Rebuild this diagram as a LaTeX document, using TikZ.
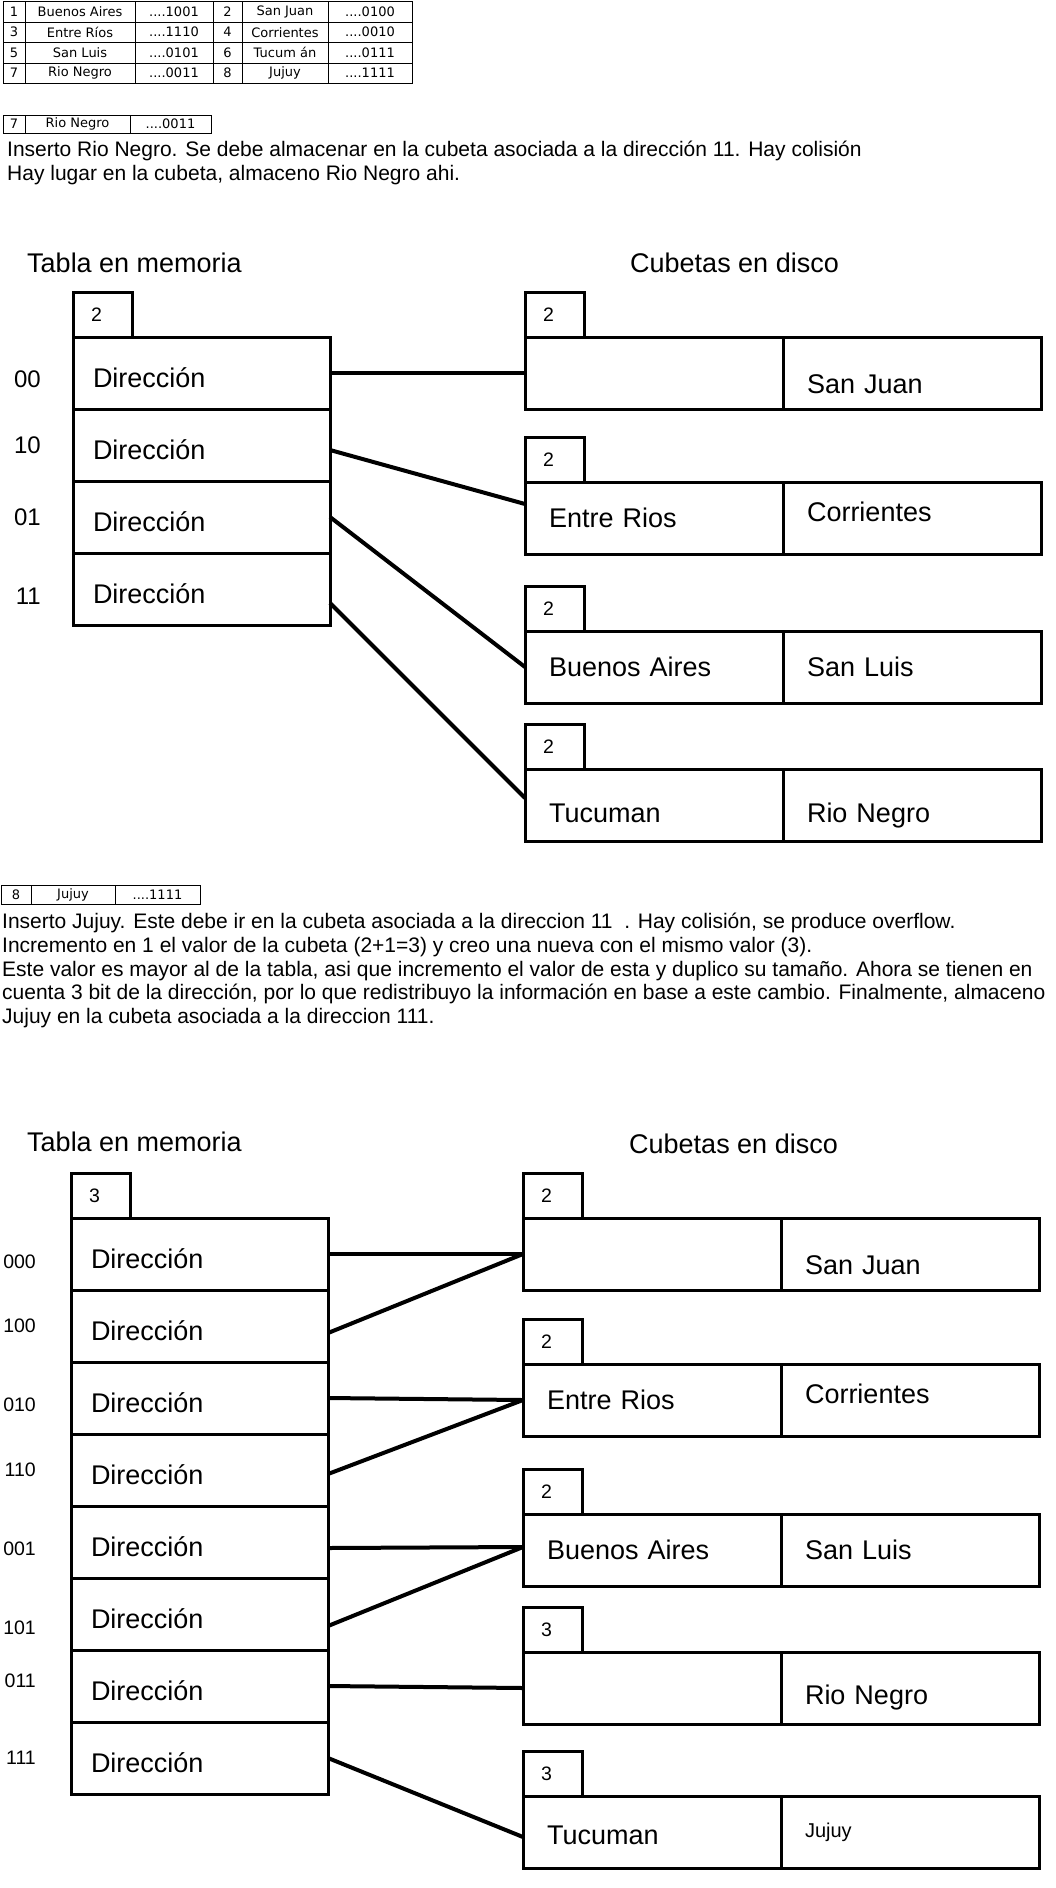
\documentclass[tikz,border=0pt]{standalone}
\usepackage{fontspec}
\setmainfont{Liberation Sans}
\newfontfamily\tablefont{DejaVu Sans}
\usepackage{tikz}
\usetikzlibrary{positioning}

\tikzset{
  cell/.style={draw, line width=0.8pt, minimum width=#1, minimum height=20.5pt,
    inner sep=0pt, outer sep=0pt, font={\tablefont\fontsize{13pt}{15pt}\selectfont}},
  dirrow/.style={draw, line width=3pt, minimum width=257pt, minimum height=72pt,
    text width=217pt, inner xsep=20pt, inner ysep=0pt, outer sep=0pt, align=left,
    text height=29pt, text depth=0pt, font={\fontsize{27pt}{32pt}\selectfont}},
  half/.style={draw, line width=3pt, minimum width=258pt, minimum height=72pt,
    text width=210pt, inner xsep=24pt, inner ysep=0pt, outer sep=0pt, align=left,
    font={\fontsize{27pt}{32pt}\selectfont}},
  tabbox/.style={draw, line width=3pt, minimum width=59pt, minimum height=45pt,
    text width=23pt, inner xsep=18pt, inner ysep=0pt, outer sep=0pt, align=left,
    font={\fontsize{19.5pt}{22pt}\selectfont}},
  rowlab/.style={inner sep=0pt, font={\fontsize{24pt}{28pt}\selectfont}},
  rowlabs/.style={inner sep=0pt, font={\fontsize{19.5pt}{23pt}\selectfont}},
  title/.style={inner sep=0pt, anchor=west, font={\fontsize{27pt}{32pt}\selectfont}},
  note/.style={inner sep=0pt, anchor=north west, align=left,
    font={\fontsize{21pt}{23.7pt}\selectfont}},
  sunk/.style={text height=#1, text depth=0pt},
  raised/.style={text depth=#1},
  link/.style={line width=4pt},
}

\begin{document}
\begin{tikzpicture}[x=1pt, y=-1pt]
\useasboundingbox (0,0) rectangle (1056,1888);

% tabla de datos
\node[cell=22pt, anchor=north west] (t11) at (3,1.5) {1};
\node[cell=110pt, right=0pt of t11] (t12) {Buenos Aires};
\node[cell=78pt, right=0pt of t12] (t13) {....1001};
\node[cell=29pt, right=0pt of t13] (t14) {2};
\node[cell=86pt, right=0pt of t14] (t15) {San Juan};
\node[cell=84pt, right=0pt of t15] (t16) {....0100};

\node[cell=22pt, below=0pt of t11] (t21) {3};
\node[cell=110pt, right=0pt of t21] (t22) {Entre Ríos};
\node[cell=78pt, right=0pt of t22] (t23) {....1110};
\node[cell=29pt, right=0pt of t23] (t24) {4};
\node[cell=86pt, right=0pt of t24] (t25) {Corrientes};
\node[cell=84pt, right=0pt of t25] (t26) {....0010};

\node[cell=22pt, below=0pt of t21] (t31) {5};
\node[cell=110pt, right=0pt of t31] (t32) {San Luis};
\node[cell=78pt, right=0pt of t32] (t33) {....0101};
\node[cell=29pt, right=0pt of t33] (t34) {6};
\node[cell=86pt, right=0pt of t34] (t35) {Tucum án};
\node[cell=84pt, right=0pt of t35] (t36) {....0111};

\node[cell=22pt, below=0pt of t31] (t41) {7};
\node[cell=110pt, right=0pt of t41] (t42) {Rio Negro};
\node[cell=78pt, right=0pt of t42] (t43) {....0011};
\node[cell=29pt, right=0pt of t43] (t44) {8};
\node[cell=86pt, right=0pt of t44] (t45) {Jujuy};
\node[cell=84pt, right=0pt of t45] (t46) {....1111};

% insercion de Rio Negro
\node[cell=22pt, minimum height=18pt, anchor=north west] (r1) at (3,115) {7};
\node[cell=105pt, minimum height=18pt, right=0pt of r1] (r2) {Rio Negro};
\node[cell=81pt, minimum height=18pt, right=0pt of r2] (r3) {....0011};

\node[note] (p1) at (7,141) {Inserto Rio Negro. Se debe almacenar en la cubeta asociada a la dirección 11. Hay colisión\\
Hay lugar en la cubeta, almaceno Rio Negro ahi.};

\node[title] (h1) at (27,263) {Tabla en memoria};
\node[title] (h2) at (630,263) {Cubetas en disco};

\node[dirrow, anchor=north west] (d00) at (73,337) {Dirección};
\node[dirrow, below=0pt of d00] (d10) {Dirección};
\node[dirrow, below=0pt of d10] (d01) {Dirección};
\node[dirrow, below=0pt of d01] (d11) {Dirección};
\node[tabbox, above right=0pt of d00.north west] (m1) {2};

\node[rowlab, left=32pt of d00, yshift=-6pt] (l00) {00};
\node[rowlab, left=32pt of d10] (l10) {10};
\node[rowlab, left=32pt of d01] (l01) {01};
\node[rowlab, left=32pt of d11, yshift=-7pt] (l11) {11};

\node[half, anchor=north west] (b1a) at (525,337) {};
\node[half, sunk=40pt, right=0pt of b1a] (b1b) {San Juan};
\node[tabbox, above right=0pt of b1a.north west] (b1t) {2};

\node[half, anchor=north west] (b2a) at (525,482) {Entre Rios};
\node[half, raised=12pt, right=0pt of b2a] (b2b) {Corrientes};
\node[tabbox, above right=0pt of b2a.north west] (b2t) {2};

\node[half, anchor=north west] (b3a) at (525,631) {Buenos Aires};
\node[half, right=0pt of b3a] (b3b) {San Luis};
\node[tabbox, above right=0pt of b3a.north west] (b3t) {2};

\node[half, sunk=35.5pt, anchor=north west] (b4a) at (525,769) {Tucuman};
\node[half, sunk=35.5pt, right=0pt of b4a] (b4b) {Rio Negro};
\node[tabbox, above right=0pt of b4a.north west] (b4t) {2};

\draw[link] (d00) -- (b1a);
\draw[link] ([yshift=-5pt]d10.east) -- ([yshift=14pt]b2a.west);
\draw[link] (d01.east) -- (b3a.west);
\draw[link] ([yshift=-14pt]d11.east) -- ([yshift=7pt]b4a.west);

% insercion de Jujuy
\node[cell=30pt, minimum height=19pt, anchor=north west] (j1) at (1,885) {8};
\node[cell=84pt, minimum height=19pt, right=0pt of j1] (j2) {Jujuy};
\node[cell=85pt, minimum height=19pt, right=0pt of j2] (j3) {....1111};

\node[note] (p2) at (2,913) {Inserto Jujuy. Este debe ir en la cubeta asociada a la direccion 11~~. Hay colisión, se produce overflow.\\
Incremento en 1 el valor de la cubeta (2+1=3) y creo una nueva con el mismo valor (3).\\
Este valor es mayor al de la tabla, asi que incremento el valor de esta y duplico su tamaño. Ahora se tienen en\\
cuenta 3 bit de la dirección, por lo que redistribuyo la información en base a este cambio. Finalmente, almaceno\\
Jujuy en la cubeta asociada a la direccion 111.};

\node[title] (h3) at (27,1142) {Tabla en memoria};
\node[title] (h4) at (629,1144) {Cubetas en disco};

\node[dirrow, anchor=north west] (d000) at (71,1218) {Dirección};
\node[dirrow, below=0pt of d000] (d100) {Dirección};
\node[dirrow, below=0pt of d100] (d010) {Dirección};
\node[dirrow, below=0pt of d010] (d110) {Dirección};
\node[dirrow, below=0pt of d110] (d001) {Dirección};
\node[dirrow, below=0pt of d001] (d101) {Dirección};
\node[dirrow, below=0pt of d101] (d011) {Dirección};
\node[dirrow, below=0pt of d011] (d111) {Dirección};
\node[tabbox, above right=0pt of d000.north west] (m2) {3};

\node[rowlabs, left=35pt of d000, yshift=-8pt] (l000) {000};
\node[rowlabs, left=35pt of d100] (l100) {100};
\node[rowlabs, left=35pt of d010, yshift=-7pt] (l010) {010};
\node[rowlabs, left=35pt of d110] (l110) {110};
\node[rowlabs, left=35pt of d001, yshift=-7pt] (l001) {001};
\node[rowlabs, left=35pt of d101, yshift=-14pt] (l101) {101};
\node[rowlabs, left=35pt of d011, yshift=5pt] (l011) {011};
\node[rowlabs, left=35pt of d111] (l111) {111};

\node[half, anchor=north west] (c1a) at (523,1218) {};
\node[half, sunk=40pt, right=0pt of c1a] (c1b) {San Juan};
\node[tabbox, above right=0pt of c1a.north west] (c1t) {2};

\node[half, anchor=north west] (c2a) at (523,1364) {Entre Rios};
\node[half, raised=12pt, right=0pt of c2a] (c2b) {Corrientes};
\node[tabbox, above right=0pt of c2a.north west] (c2t) {2};

\node[half, anchor=north west] (c3a) at (523,1514) {Buenos Aires};
\node[half, right=0pt of c3a] (c3b) {San Luis};
\node[tabbox, above right=0pt of c3a.north west] (c3t) {2};

\node[half, anchor=north west] (c4a) at (523,1652) {};
\node[half, sunk=33.5pt, right=0pt of c4a] (c4b) {Rio Negro};
\node[tabbox, above right=0pt of c4a.north west] (c4t) {3};

\node[half, sunk=25.7pt, anchor=north west] (c5a) at (523,1796) {Tucuman};
\node[half, font={\fontsize{20pt}{24pt}\selectfont}, right=0pt of c5a] (c5b) {Jujuy};
\node[tabbox, above right=0pt of c5a.north west] (c5t) {3};

\draw[link] (d000.east) -- (c1a.west);
\draw[link] ([yshift=-7pt]d100.east) -- (c1a.west);
\draw[link] (d010.east) -- (c2a.west);
\draw[link] ([yshift=-4pt]d110.east) -- (c2a.west);
\draw[link] ([yshift=-6pt]d001.east) -- ([yshift=3pt]c3a.west);
\draw[link] ([yshift=-12pt]d101.east) -- ([yshift=3pt]c3a.west);
\draw[link] (d011.east) -- (c4a.west);
\draw[link] (d111.east) -- ([yshift=-5pt]c5a.west);
\end{tikzpicture}
\end{document}
